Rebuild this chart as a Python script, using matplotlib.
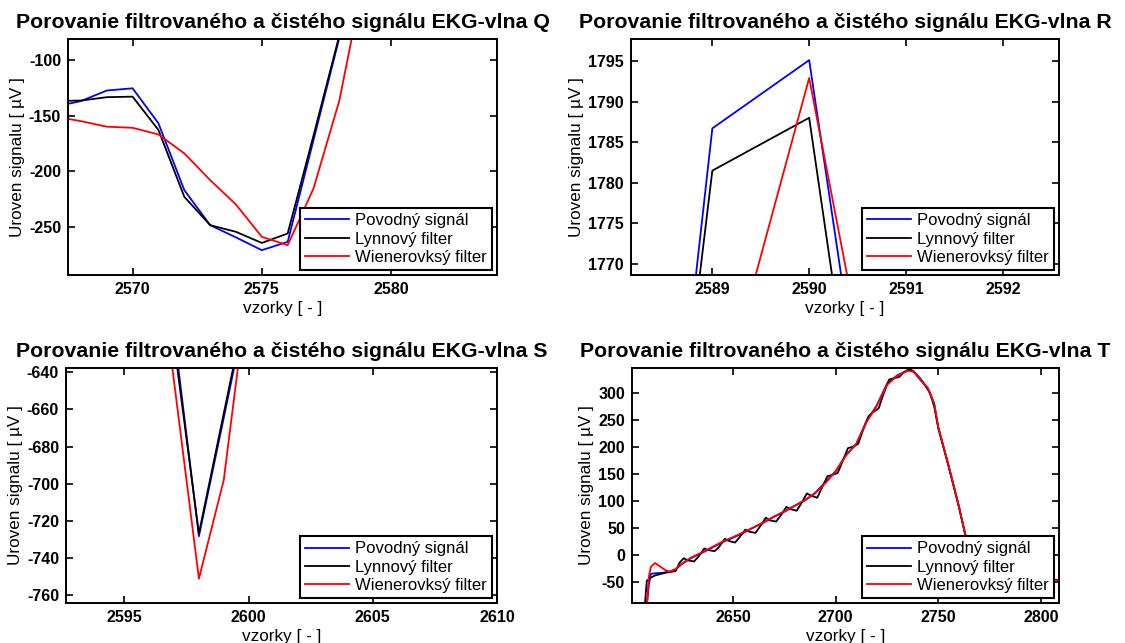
import matplotlib
matplotlib.use("Agg")
import matplotlib.pyplot as plt

plt.rcParams['font.family'] = ['Liberation Sans', 'DejaVu Sans']
plt.rcParams['axes.unicode_minus'] = False

# ---------------- data ----------------
labels = ["Povodný signál", "Lynnový filter", "Wienerovksý filter"]
titles = ["Porovanie filtrovaného a čistého signálu EKG-vlna Q",
          "Porovanie filtrovaného a čistého signálu EKG-vlna R",
          "Porovanie filtrovaného a čistého signálu EKG-vlna S",
          "Porovanie filtrovaného a čistého signálu EKG-vlna T"]
xlabel = "vzorky [ - ]"
ylabel = "Uroven signalu [ \u00b5V ]"

# Q wave
q_x = [2567, 2568, 2569, 2570, 2571, 2572, 2573, 2574, 2575, 2576, 2577, 2578, 2579]
q_orig = [-142, -137, -127.5, -125.5, -157, -217, -248.5, -259.5, -271, -263.5, -172, -80, 15]
q_lynn = [-137, -136.5, -133.5, -133, -163, -223, -248.5, -254.5, -264.5, -256, -168, -78, 18]
q_wiener = [-151, -155, -160, -161, -167, -184, -208, -230, -259, -266.5, -215.5, -136.5, -20]

# R wave
r_x = [2588, 2589, 2590, 2591]
r_orig = [1680, 1786.7, 1795.1, 1715]
r_lynn = [1682.5, 1781.5, 1788.0, 1706]
r_wiener = [1690, 1749, 1792.9, 1731]

# S wave
s_x = [2596, 2597, 2598, 2599, 2600]
s_orig = [-520, -619, -728.2, -664.5, -600]
s_lynn = [-522, -624.4, -726.7, -662.2, -597.7]
s_wiener = [-540, -645, -751, -698, -592]

# T wave
t_orig_x = [2601, 2608, 2609, 2610, 2612, 2616, 2620, 2622, 2625, 2630, 2635, 2640, 2645,
            2650, 2655, 2660, 2665, 2670, 2675, 2680, 2685, 2690, 2695, 2700, 2705, 2710,
            2715, 2720, 2725, 2730, 2735, 2738, 2740, 2745, 2748, 2750, 2755, 2760, 2763,
            2766, 2770, 2775, 2780, 2790, 2800, 2805, 2810]
t_orig = [-95, -95, -55, -35, -34, -33, -30, -27, -17, -5, 4, 14, 24,
          32, 41, 51, 60, 71, 80, 91, 101, 115, 135, 155, 185, 205,
          248, 277, 317, 333, 342, 340, 330, 308, 280, 235, 165, 90, 40,
          0, -30, -45, -50, -50, -46, -45, -48]

t_lynn_x = [2601, 2607, 2608, 2610, 2612, 2614, 2617, 2620, 2622, 2624, 2626, 2628, 2631,
            2633, 2636, 2638, 2641, 2643, 2646, 2648, 2651, 2653, 2656, 2658, 2661, 2663,
            2666, 2668, 2671, 2673, 2676, 2678, 2681, 2683, 2686, 2688, 2691, 2693, 2696,
            2698, 2701, 2703, 2706, 2708, 2711, 2713, 2716, 2718, 2721, 2723, 2726, 2728,
            2731, 2733, 2736, 2738, 2741, 2743, 2746, 2748, 2750, 2755, 2760, 2763, 2766,
            2770, 2775, 2780, 2790, 2800, 2805, 2810]
t_lynn = [-95, -95, -48, -42, -38, -36, -33, -31, -30, -14, -6, -10, -12,
          -4, 12, 9, 7, 14, 30, 26, 23, 32, 47, 43, 41, 52,
          69, 64, 62, 72, 89, 85, 82, 94, 114, 110, 106, 122, 146,
          148, 152, 170, 198, 200, 206, 228, 257, 264, 272, 295, 325, 327,
          330, 338, 345, 340, 328, 318, 300, 275, 236, 165, 90, 40, 0,
          -30, -45, -50, -50, -46, -45, -48]

t_wiener_x = [2601, 2608, 2609, 2610, 2612, 2614, 2617, 2619, 2622, 2625, 2630, 2635, 2640,
              2645, 2650, 2655, 2660, 2665, 2670, 2675, 2680, 2685, 2690, 2695, 2700, 2705,
              2710, 2715, 2720, 2725, 2730, 2735, 2738, 2740, 2745, 2748, 2750, 2755, 2760,
              2763, 2766, 2770, 2775, 2780, 2790, 2800, 2805, 2810]
t_wiener = [-95, -95, -40, -22, -15, -20, -28, -31, -26, -16, -4, 5, 15,
            25, 33, 42, 51, 61, 71, 81, 91, 102, 114, 133, 155, 184,
            206, 246, 276, 315, 332, 341, 340, 331, 309, 281, 237, 166, 91,
            41, 1, -29, -44, -50, -50, -46, -46, -48]

# axis settings
q_xlim, q_ylim = (2567.5, 2584.1), (-293.3, -81.2)
r_xlim, r_ylim = (2588.16, 2592.58), (1768.65, 1797.7)
s_xlim, s_ylim = (2592.65, 2610.0), (-764.1, -637.7)
t_xlim, t_ylim = (2600.8, 2808.8), (-89, 346.5)
q_xticks, q_yticks = [2570, 2575, 2580], [-250, -200, -150, -100]
r_xticks, r_yticks = [2589, 2590, 2591, 2592], [1770, 1775, 1780, 1785, 1790, 1795]
s_xticks, s_yticks = [2595, 2600, 2605, 2610], [-760, -740, -720, -700, -680, -660, -640]
t_xticks, t_yticks = [2650, 2700, 2750, 2800], [-50, 0, 50, 100, 150, 200, 250, 300]

# ---------------- figure ----------------
W, H = 1125, 643
fig = plt.figure(figsize=(W / 100, H / 100), dpi=100)
fig.patch.set_facecolor('white')

def rect(l, t, r, b):
    return [l / W, 1 - b / H, (r - l) / W, (b - t) / H]

positions = [rect(68, 39, 497, 275), rect(631, 39, 1059, 275),
             rect(66, 368, 497, 603), rect(632, 368, 1059, 603)]

panels = [
    ([q_x, q_x, q_x], [q_orig, q_lynn, q_wiener], q_xlim, q_ylim, q_xticks, q_yticks),
    ([r_x, r_x, r_x], [r_orig, r_lynn, r_wiener], r_xlim, r_ylim, r_xticks, r_yticks),
    ([s_x, s_x, s_x], [s_orig, s_lynn, s_wiener], s_xlim, s_ylim, s_xticks, s_yticks),
    ([t_orig_x, t_lynn_x, t_wiener_x], [t_orig, t_lynn, t_wiener], t_xlim, t_ylim, t_xticks, t_yticks),
]
colors = ['#0000ff', '#000000', '#ff0000']

for i, (xs, ys, xl, yl, xt, yt) in enumerate(panels):
    ax = fig.add_axes(positions[i])
    for x, y, c, lab in zip(xs, ys, colors, labels):
        ax.plot(x, y, color=c, lw=1.3, label=lab)
    ax.set_xlim(*xl)
    ax.set_ylim(*yl)
    ax.set_xticks(xt)
    ax.set_yticks(yt)
    ax.tick_params(direction='in', length=5, width=1.2, top=True, right=True,
                   labelsize=11.5, pad=5)
    for lab in ax.get_xticklabels() + ax.get_yticklabels():
        lab.set_fontweight('bold')
    for sp in ax.spines.values():
        sp.set_linewidth(1.4)
    ax.set_title(titles[i], fontsize=15.3, fontweight='bold', pad=8)
    ax.set_xlabel(xlabel, fontsize=12.3, labelpad=3)
    ax.set_ylabel(ylabel, fontsize=12.3, labelpad=3)
    leg = ax.legend(loc='lower right', fontsize=12, frameon=True, fancybox=False,
                    borderaxespad=0.3, borderpad=0.3, labelspacing=0.2,
                    handlelength=2.6, handletextpad=0.4, framealpha=1)
    leg.get_frame().set_edgecolor('black')
    leg.get_frame().set_linewidth(1.5)

fig.savefig('out.png', dpi=100, facecolor='white')
